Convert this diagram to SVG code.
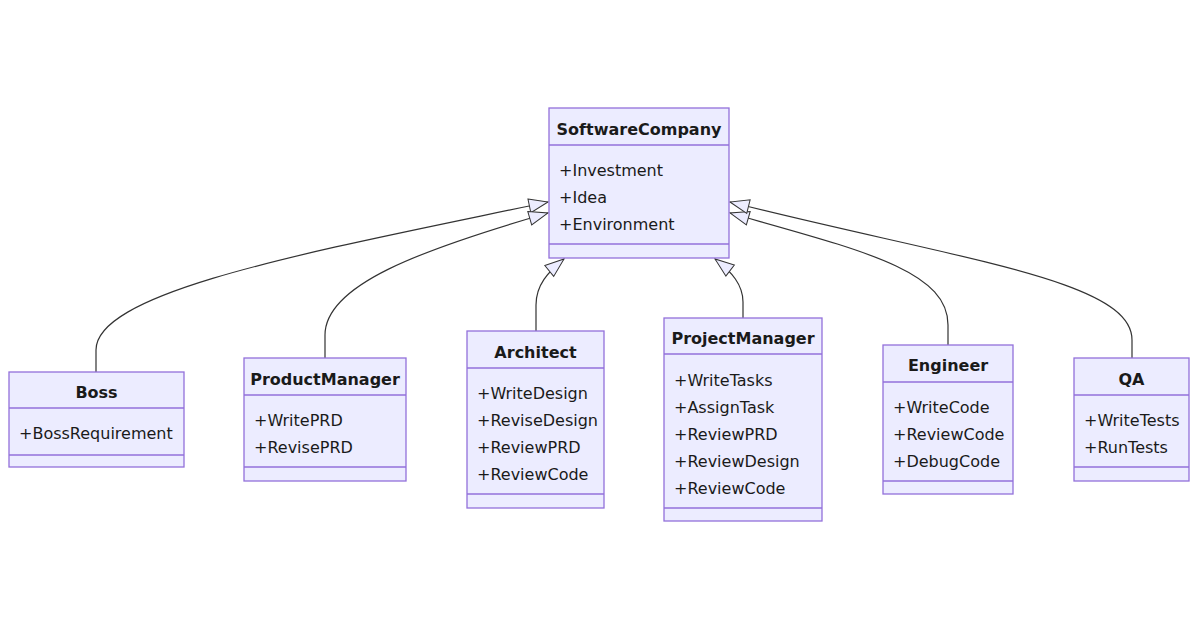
<svg xmlns="http://www.w3.org/2000/svg" width="1200" height="630" viewBox="0 0 1200 630">
<style>
.box{fill:#ECECFF;stroke:#9370DB;stroke-width:1.3}
.div{stroke:#9370DB;stroke-width:1.3}
.t{font-family:"DejaVu Sans",Verdana,sans-serif;font-size:16px;fill:#1a1a1a}
.h{font-weight:bold;text-anchor:middle}
.edge{fill:none;stroke:#333;stroke-width:1.2}
</style>
<defs>
<marker id="ext" markerUnits="userSpaceOnUse" markerWidth="22" markerHeight="18" refX="19" refY="7" orient="auto" viewBox="-1 -1 22 16">
<path d="M0,0 L19,7 L0,14 Z" fill="#ECECFF" stroke="#333" stroke-width="1"/>
</marker>
</defs>
<rect width="1200" height="630" fill="#fff"/>
<g id="connectors">
<path class="edge" d="M96,372 L96,350 C96,290 320,250 548,202" marker-end="url(#ext)"/>
<path class="edge" d="M325,358 L325,335 C325,285 420,250 548,213" marker-end="url(#ext)"/>
<path class="edge" d="M536,331 L536,305 C536,285 548,272 564,259" marker-end="url(#ext)"/>
<path class="edge" d="M743,318 L743,302 C743,285 732,272 715,259" marker-end="url(#ext)"/>
<path class="edge" d="M948,345 L948,325 C948,270 860,250 730,213" marker-end="url(#ext)"/>
<path class="edge" d="M1132,358 L1132,340 C1132,280 960,260 730,202" marker-end="url(#ext)"/>
</g>
<g id="SoftwareCompany">
<rect class="box" x="549" y="108" width="180" height="150"/>
<line class="div" x1="549" y1="145" x2="729" y2="145"/>
<line class="div" x1="549" y1="244" x2="729" y2="244"/>
<text class="t h" x="639" y="135">SoftwareCompany</text>
<text class="t" x="559" y="176">+Investment</text>
<text class="t" x="559" y="203">+Idea</text>
<text class="t" x="559" y="230">+Environment</text>
</g>
<g id="Boss">
<rect class="box" x="9" y="372" width="175" height="95"/>
<line class="div" x1="9" y1="408" x2="184" y2="408"/>
<line class="div" x1="9" y1="455" x2="184" y2="455"/>
<text class="t h" x="96.5" y="398">Boss</text>
<text class="t" x="19" y="439">+BossRequirement</text>
</g>
<g id="ProductManager">
<rect class="box" x="244" y="358" width="162" height="123"/>
<line class="div" x1="244" y1="395" x2="406" y2="395"/>
<line class="div" x1="244" y1="467" x2="406" y2="467"/>
<text class="t h" x="325" y="385">ProductManager</text>
<text class="t" x="254" y="426">+WritePRD</text>
<text class="t" x="254" y="453">+RevisePRD</text>
</g>
<g id="Architect">
<rect class="box" x="467" y="331" width="137" height="177"/>
<line class="div" x1="467" y1="368" x2="604" y2="368"/>
<line class="div" x1="467" y1="494" x2="604" y2="494"/>
<text class="t h" x="535.5" y="358">Architect</text>
<text class="t" x="477" y="399">+WriteDesign</text>
<text class="t" x="477" y="426">+ReviseDesign</text>
<text class="t" x="477" y="453">+ReviewPRD</text>
<text class="t" x="477" y="480">+ReviewCode</text>
</g>
<g id="ProjectManager">
<rect class="box" x="664" y="318" width="158" height="203"/>
<line class="div" x1="664" y1="354" x2="822" y2="354"/>
<line class="div" x1="664" y1="508" x2="822" y2="508"/>
<text class="t h" x="743" y="344">ProjectManager</text>
<text class="t" x="674" y="386">+WriteTasks</text>
<text class="t" x="674" y="413">+AssignTask</text>
<text class="t" x="674" y="440">+ReviewPRD</text>
<text class="t" x="674" y="467">+ReviewDesign</text>
<text class="t" x="674" y="494">+ReviewCode</text>
</g>
<g id="Engineer">
<rect class="box" x="883" y="345" width="130" height="149"/>
<line class="div" x1="883" y1="382" x2="1013" y2="382"/>
<line class="div" x1="883" y1="481" x2="1013" y2="481"/>
<text class="t h" x="948" y="371">Engineer</text>
<text class="t" x="893" y="413">+WriteCode</text>
<text class="t" x="893" y="440">+ReviewCode</text>
<text class="t" x="893" y="467">+DebugCode</text>
</g>
<g id="QA">
<rect class="box" x="1074" y="358" width="115" height="123"/>
<line class="div" x1="1074" y1="395" x2="1189" y2="395"/>
<line class="div" x1="1074" y1="467" x2="1189" y2="467"/>
<text class="t h" x="1131.5" y="385">QA</text>
<text class="t" x="1084" y="426">+WriteTests</text>
<text class="t" x="1084" y="453">+RunTests</text>
</g>
</svg>
